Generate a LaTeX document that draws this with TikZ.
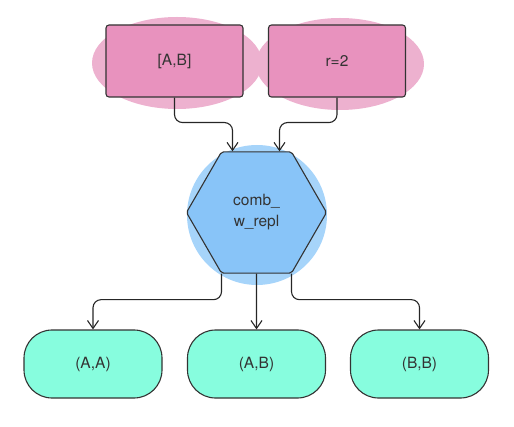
\documentclass[tikz,border=0pt]{standalone}
\usepackage{fontspec}
\setmainfont{TeX Gyre Heros}
\usetikzlibrary{arrows.meta}
\usetikzlibrary{calc}
\usetikzlibrary{shapes.geometric}
\tikzset{>={Straight Barb[length=8pt,width=11pt]}}
\definecolor{inpink}{RGB}{232,146,190}
\definecolor{blobpink}{RGB}{237,177,207}
\definecolor{procblue}{RGB}{136,196,248}
\definecolor{blobblue}{RGB}{166,212,250}
\definecolor{outgreen}{RGB}{135,253,222}
\definecolor{inkgray}{RGB}{51,51,51}
\tikzstyle{inbox}=[draw=inkgray,fill=inpink,line width=1.1pt,rounded corners=3pt,minimum width=137pt,minimum height=72pt]
\tikzstyle{procbox}=[draw=inkgray,fill=procblue,line width=1.1pt,regular polygon,regular polygon sides=6,minimum size=140pt,rounded corners=2pt,align=center]
\tikzstyle{outbox}=[draw=inkgray,fill=outgreen,line width=1.1pt,rounded corners=28pt,minimum width=138pt,minimum height=68pt]
\tikzstyle{flow}=[draw=black!85,line width=1.1pt,rounded corners=8pt,->]

\begin{document}
\begin{tikzpicture}[x=1pt,y=1pt,every node/.style={font=\fontsize{15.5}{21}\selectfont,text=inkgray}]
  \useasboundingbox (0,0) rectangle (514,426);
  \fill[blobpink] (177,363) ellipse (85 and 46);
  \fill[blobpink] (340,362) ellipse (84 and 46);
  \fill[blobblue] (257,211) circle (70);

  \node[inbox] (list) at (174.5,365) {[A,B]};
  \node[inbox] (rlen) at (337,365) {r=2};
  \node[procbox] (comb) at (256.5,213.5) {comb\_\\w\_repl};
  \node[outbox] (aa) at (93,62) {(A,A)};
  \node[outbox] (ab) at (256.5,62) {(A,B)};
  \node[outbox] (bb) at (419.5,62) {(B,B)};

  \coordinate (combinl) at ($(comb.north)+(-24,0)$);
  \coordinate (combinr) at ($(comb.north)+(23,0)$);
  \coordinate (comboutl) at ($(comb.south)+(-35,0)$);
  \coordinate (comboutr) at ($(comb.south)+(35,0)$);

  \draw[flow] (list.south) -- ++(0,-25) -| (combinl);
  \draw[flow] (rlen.south) -- ++(0,-25) -| (combinr);
  \draw[flow] (comboutl) -- ++(0,-26) -| (aa.north);
  \draw[flow] (comb.south) -- (ab.north);
  \draw[flow] (comboutr) -- ++(0,-26) -| (bb.north);
\end{tikzpicture}
\end{document}
